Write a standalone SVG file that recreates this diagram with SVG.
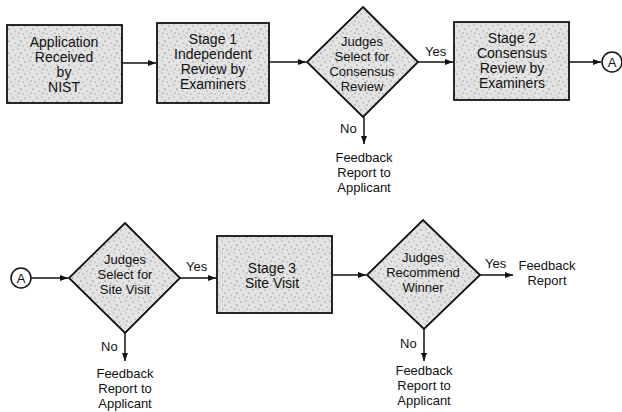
<svg xmlns="http://www.w3.org/2000/svg" width="622" height="412" viewBox="0 0 622 412">
<style>
.shape{fill:url(#stip);stroke:#111;stroke-width:1.8}
.t{font-family:"Liberation Sans",Arial,sans-serif;font-size:14px;fill:#111;text-anchor:middle}
.d{font-family:"Liberation Sans",Arial,sans-serif;font-size:13px;fill:#111;text-anchor:middle}
.s{font-family:"Liberation Sans",Arial,sans-serif;font-size:13px;fill:#111;text-anchor:middle}
.l{font-family:"Liberation Sans",Arial,sans-serif;font-size:13px;fill:#111}
.c{fill:none;stroke:#111;stroke-width:1.5}
</style>
<defs>
<pattern id="stip" width="12" height="12" patternUnits="userSpaceOnUse">
<rect width="12" height="12" fill="#e3e3e3"/>
<circle cx="1" cy="2" r="0.6" fill="#555"/>
<circle cx="6" cy="1" r="0.5" fill="#666"/>
<circle cx="9" cy="5" r="0.6" fill="#444"/>
<circle cx="3" cy="7" r="0.5" fill="#666"/>
<circle cx="7" cy="9" r="0.6" fill="#555"/>
<circle cx="11" cy="10" r="0.5" fill="#666"/>
<circle cx="4" cy="11" r="0.4" fill="#777"/>
</pattern>
<marker id="arr" markerWidth="8" markerHeight="6" refX="8" refY="3" orient="auto" markerUnits="userSpaceOnUse">
<path d="M0,0 L8,3 L0,6 Z" fill="#111"/>
</marker>
</defs>
<rect width="622" height="412" fill="#fff"/>

<g id="connectors">
<line class="c" x1="122" y1="63" x2="156" y2="63" marker-end="url(#arr)"/>
<line class="c" x1="269" y1="62" x2="306" y2="62" marker-end="url(#arr)"/>
<line class="c" x1="418" y1="62" x2="453" y2="62" marker-end="url(#arr)"/>
<line class="c" x1="569" y1="62" x2="601" y2="62" marker-end="url(#arr)"/>
<line class="c" x1="364" y1="117" x2="364" y2="144" marker-end="url(#arr)"/>
<line class="c" x1="31" y1="278" x2="68" y2="278" marker-end="url(#arr)"/>
<line class="c" x1="180" y1="278" x2="216" y2="278" marker-end="url(#arr)"/>
<line class="c" x1="125" y1="333" x2="125" y2="361" marker-end="url(#arr)"/>
<line class="c" x1="332" y1="275" x2="366" y2="275" marker-end="url(#arr)"/>
<line class="c" x1="480" y1="275" x2="513" y2="275" marker-end="url(#arr)"/>
<line class="c" x1="424" y1="329" x2="424" y2="361" marker-end="url(#arr)"/>
<text class="l" x="425" y="56">Yes</text>
<text class="l" x="340" y="133">No</text>
<text class="l" x="186" y="271">Yes</text>
<text class="l" x="101" y="351">No</text>
<text class="l" x="485" y="268">Yes</text>
<text class="l" x="400" y="348">No</text>
</g>

<g id="n1">
<rect class="shape" x="7" y="25" width="115" height="78"/>
<text class="t" x="64" y="47">Application</text>
<text class="t" x="64" y="62">Received</text>
<text class="t" x="64" y="77">by</text>
<text class="t" x="64" y="92">NIST</text>
</g>
<g id="n2">
<rect class="shape" x="157" y="23" width="112" height="80"/>
<text class="t" x="213" y="44">Stage 1</text>
<text class="t" x="213" y="59">Independent</text>
<text class="t" x="213" y="74">Review by</text>
<text class="t" x="213" y="89">Examiners</text>
</g>
<g id="d1">
<polygon class="shape" points="363,7 418,62 363,117 307,62"/>
<text class="d" x="362" y="46">Judges</text>
<text class="d" x="362" y="61">Select for</text>
<text class="d" x="362" y="76">Consensus</text>
<text class="d" x="362" y="91">Review</text>
</g>
<g id="n3">
<rect class="shape" x="454" y="22" width="115" height="78"/>
<text class="t" x="512" y="43">Stage 2</text>
<text class="t" x="512" y="58">Consensus</text>
<text class="t" x="512" y="73">Review by</text>
<text class="t" x="512" y="88">Examiners</text>
</g>
<g id="a1">
<circle cx="612" cy="62" r="10" fill="#fff" stroke="#111" stroke-width="1.5"/>
<text class="s" x="612" y="67">A</text>
</g>
<g id="f1">
<text class="s" x="364" y="162">Feedback</text>
<text class="s" x="364" y="177">Report to</text>
<text class="s" x="364" y="192">Applicant</text>
</g>

<g id="a2">
<circle cx="21" cy="278" r="10" fill="#fff" stroke="#111" stroke-width="1.5"/>
<text class="s" x="21" y="283">A</text>
</g>
<g id="d2">
<polygon class="shape" points="125,223 180,278 125,333 69,278"/>
<text class="d" x="125" y="264">Judges</text>
<text class="d" x="125" y="279">Select for</text>
<text class="d" x="125" y="294">Site Visit</text>
</g>
<g id="n4">
<rect class="shape" x="217" y="236" width="115" height="77"/>
<text class="t" x="272" y="273">Stage 3</text>
<text class="t" x="272" y="288">Site Visit</text>
</g>
<g id="d3">
<polygon class="shape" points="423,220 480,275 424,329 367,275"/>
<text class="d" x="423" y="262">Judges</text>
<text class="d" x="423" y="277">Recommend</text>
<text class="d" x="423" y="292">Winner</text>
</g>
<g id="f2">
<text class="s" x="125" y="378">Feedback</text>
<text class="s" x="125" y="393">Report to</text>
<text class="s" x="125" y="408">Applicant</text>
</g>
<g id="f3">
<text class="s" x="424" y="375">Feedback</text>
<text class="s" x="424" y="390">Report to</text>
<text class="s" x="424" y="405">Applicant</text>
</g>
<g id="f4">
<text class="s" x="547" y="270">Feedback</text>
<text class="s" x="547" y="285">Report</text>
</g>
</svg>
